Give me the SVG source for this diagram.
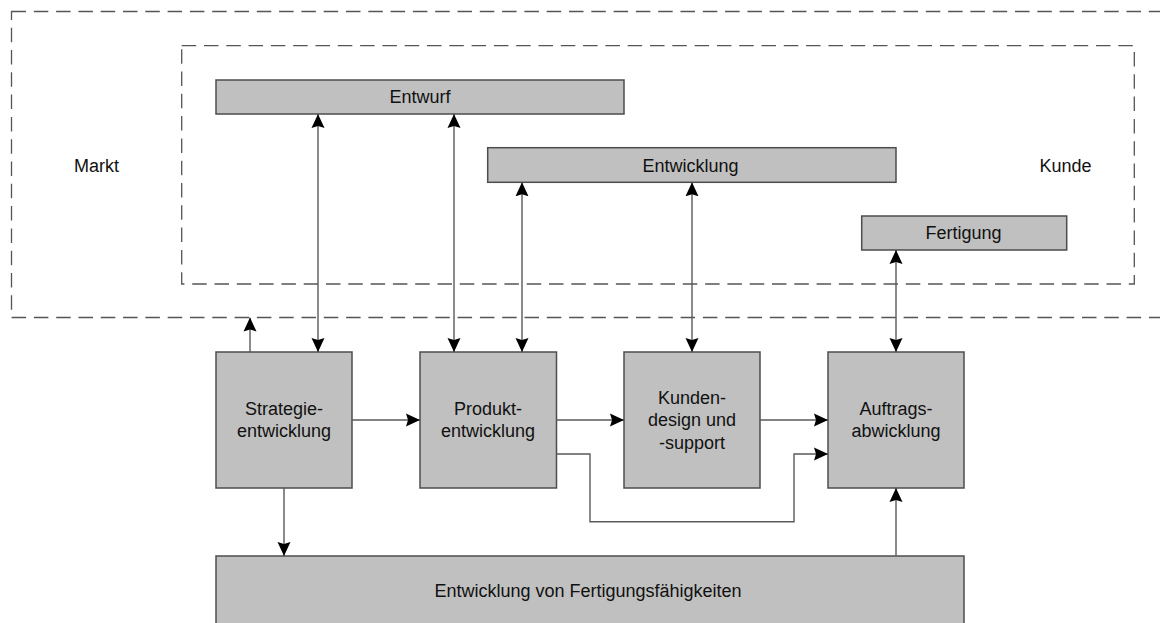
<svg xmlns="http://www.w3.org/2000/svg" width="1160" height="623" viewBox="0 0 1160 623">
  <style>
    .box { fill: #c0c0c0; stroke: #4d4d4d; stroke-width: 1.5; }
    .zone { fill: none; stroke: #555555; stroke-width: 1.3; stroke-dasharray: 14.5 7.8; }
    .link { fill: none; stroke: #5a5a5a; stroke-width: 1.4; }
    .lbl { font-family: "Liberation Sans", Arial, Helvetica, sans-serif; font-size: 18px; fill: #111111; text-anchor: middle; }
  </style>
  <defs>
    <marker id="head" markerUnits="userSpaceOnUse" viewBox="0 0 14 14" markerWidth="14" markerHeight="14" refX="14" refY="7" orient="auto-start-reverse">
      <path d="M0,0.5 L14,7 L0,13.5 L2,7 z" fill="#000000"/>
    </marker>
  </defs>

  <rect width="1160" height="623" fill="#ffffff"/>

  <!-- market and customer zones -->
  <g id="zones">
    <rect class="zone" x="11.5" y="11.5" width="1170" height="306"/>
    <rect class="zone" x="181.7" y="45.7" width="952.6" height="238.3"/>
    <text class="lbl" x="96.5" y="171.5">Markt</text>
    <text class="lbl" x="1065.5" y="171.5">Kunde</text>
  </g>

  <!-- customer-side activities -->
  <g id="entwurf">
    <rect class="box" x="216" y="80" width="408" height="34"/>
    <text class="lbl" x="420" y="103.3">Entwurf</text>
  </g>
  <g id="entwicklung">
    <rect class="box" x="487.7" y="147.7" width="408.3" height="34.6"/>
    <text class="lbl" x="690.5" y="171.5">Entwicklung</text>
  </g>
  <g id="fertigung">
    <rect class="box" x="861.7" y="216" width="205" height="34"/>
    <text class="lbl" x="963.5" y="239.3">Fertigung</text>
  </g>

  <!-- internal processes -->
  <g id="strategie">
    <rect class="box" x="216" y="352" width="136" height="136"/>
    <text class="lbl" x="284" y="415.3">Strategie-</text>
    <text class="lbl" x="284" y="437.3">entwicklung</text>
  </g>
  <g id="produkt">
    <rect class="box" x="420" y="352" width="136.5" height="136"/>
    <text class="lbl" x="488" y="415.3">Produkt-</text>
    <text class="lbl" x="488" y="437.3">entwicklung</text>
  </g>
  <g id="kundendesign">
    <rect class="box" x="624" y="352" width="136" height="136"/>
    <text class="lbl" x="692" y="403.5">Kunden-</text>
    <text class="lbl" x="692" y="426">design und</text>
    <text class="lbl" x="692" y="448.5">-support</text>
  </g>
  <g id="auftrag">
    <rect class="box" x="828" y="352" width="136" height="136"/>
    <text class="lbl" x="896" y="415.3">Auftrags-</text>
    <text class="lbl" x="896" y="437.3">abwicklung</text>
  </g>
  <g id="faehigkeiten">
    <rect class="box" x="216" y="556" width="748" height="70"/>
    <text class="lbl" x="588" y="596.7">Entwicklung von Fertigungsfähigkeiten</text>
  </g>

  <!-- connectors -->
  <g id="connectors">
    <line class="link" x1="250" y1="352" x2="250" y2="317.5" marker-end="url(#head)"/>
    <line class="link" x1="318" y1="114" x2="318" y2="352" marker-start="url(#head)" marker-end="url(#head)"/>
    <line class="link" x1="454" y1="114" x2="454" y2="352" marker-start="url(#head)" marker-end="url(#head)"/>
    <line class="link" x1="522" y1="182.3" x2="522" y2="352" marker-start="url(#head)" marker-end="url(#head)"/>
    <line class="link" x1="692" y1="182.3" x2="692" y2="352" marker-start="url(#head)" marker-end="url(#head)"/>
    <line class="link" x1="896" y1="250" x2="896" y2="352" marker-start="url(#head)" marker-end="url(#head)"/>
    <line class="link" x1="352" y1="420" x2="420" y2="420" marker-end="url(#head)"/>
    <line class="link" x1="556.5" y1="420" x2="624" y2="420" marker-end="url(#head)"/>
    <line class="link" x1="760" y1="420" x2="828" y2="420" marker-end="url(#head)"/>
    <path class="link" d="M556.5,454 H590 V521.7 H794 V454 H828" marker-end="url(#head)"/>
    <line class="link" x1="284" y1="488" x2="284" y2="556" marker-end="url(#head)"/>
    <line class="link" x1="896" y1="556" x2="896" y2="488" marker-end="url(#head)"/>
  </g>
</svg>
